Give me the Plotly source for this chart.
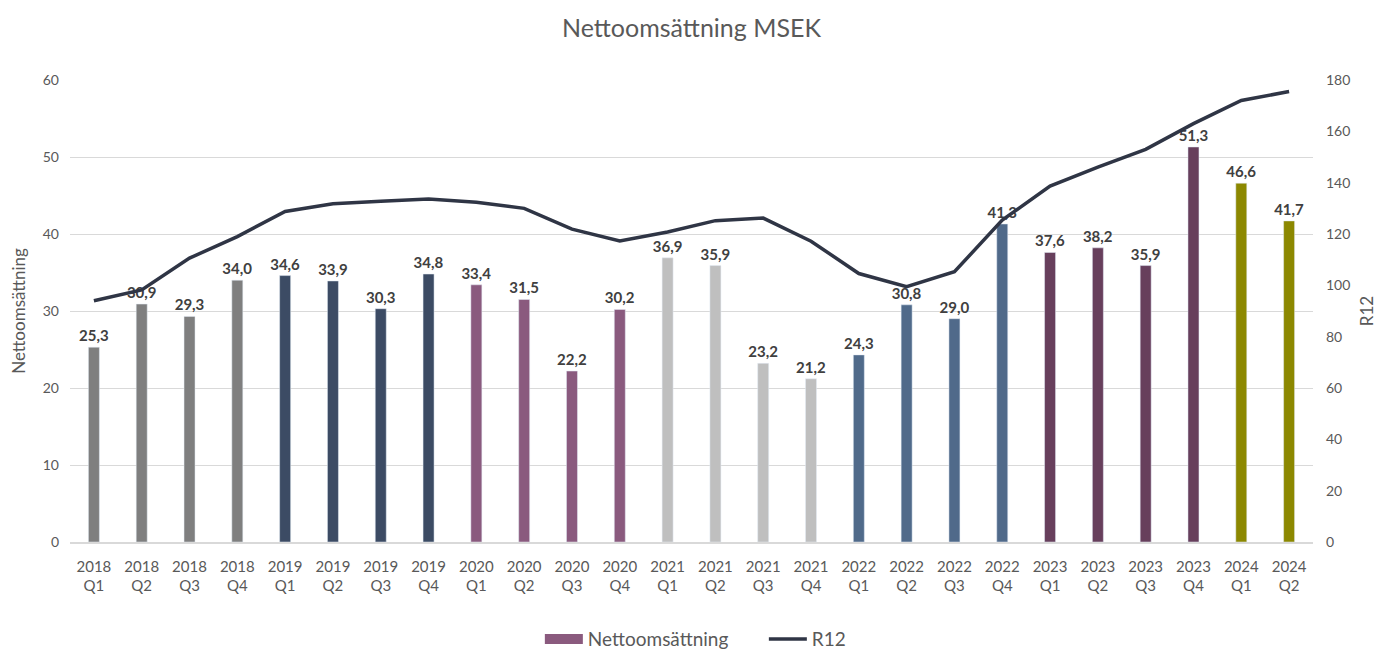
import plotly.graph_objects as go

years = ["2018"] * 4 + ["2019"] * 4 + ["2020"] * 4 + ["2021"] * 4 + ["2022"] * 4 + ["2023"] * 4 + ["2024"] * 2
quarters = ["Q1", "Q2", "Q3", "Q4"] * 6 + ["Q1", "Q2"]
categories = [f"{y}<br>{q}" for y, q in zip(years, quarters)]

net_sales = [25.3, 30.9, 29.3, 34.0,
             34.6, 33.9, 30.3, 34.8,
             33.4, 31.5, 22.2, 30.2,
             36.9, 35.9, 23.2, 21.2,
             24.3, 30.8, 29.0, 41.3,
             37.6, 38.2, 35.9, 51.3,
             46.6, 41.7]

r12 = [94.0, 98.2, 110.6, 119.0,
       128.8, 131.8, 132.8, 133.6,
       132.4, 130.0, 121.9, 117.3,
       120.8, 125.2, 126.2, 117.2,
       104.6, 99.5, 105.3, 125.4,
       138.7, 146.1, 153.0, 163.0,
       172.0, 175.5]

year_colors = {
    "2018": "#7f7f7f",
    "2019": "#3c4b64",
    "2020": "#8a5a7e",
    "2021": "#bfbfbf",
    "2022": "#506a8a",
    "2023": "#673f5c",
    "2024": "#8c8800",
}
bar_colors = [year_colors[y] for y in years]

FONT = "Lato, 'Open Sans', sans-serif"
GREY = "#595959"

fig = go.Figure()
fig.add_trace(go.Bar(
    x=categories, y=net_sales, marker_color=bar_colors,
    width=0.23, showlegend=False,
    text=[f"{v:.1f}".replace(".", ",") for v in net_sales],
    textposition="outside", cliponaxis=False, constraintext="none",
    textfont=dict(family=FONT, size=15, color="#404040", weight="bold"),
    name="Nettoomsättning",
))
# legend entry for bars (wide swatch like the original)
fig.add_trace(go.Scatter(x=[None], y=[None], mode="lines",
                         line=dict(color="#8a5a7e", width=12), name="Nettoomsättning", showlegend=True))
fig.add_trace(go.Scatter(
    x=categories, y=r12, mode="lines", yaxis="y2",
    line=dict(color="#2f3545", width=3.5), name="R12",
))

fig.update_layout(
    width=1383, height=652,
    paper_bgcolor="white", plot_bgcolor="white",
    margin=dict(l=62, r=78, t=72, b=118, autoexpand=False),
    title=dict(text="Nettoomsättning MSEK", x=0.5, xanchor="center", xref="paper",
               y=0.9693, yanchor="middle", yref="container",
               font=dict(family=FONT, size=25, color=GREY)),
    font=dict(family=FONT, color=GREY, size=14),
    bargap=0.5,
    xaxis=dict(showgrid=False, showline=True, linecolor="#d9d9d9", linewidth=1.5,
               tickfont=dict(family=FONT, size=15, color=GREY), ticks="", ticklabelstandoff=10,
               automargin=False),
    yaxis=dict(range=[0, 60], dtick=10, showgrid=True, gridcolor="#d9d9d9", gridwidth=1,
               zeroline=False, tickfont=dict(family=FONT, size=14, color=GREY),
               title=dict(text="Nettoomsättning", font=dict(family=FONT, size=17, color=GREY), standoff=12),
               ticklabelstandoff=10, automargin=False),
    yaxis2=dict(range=[0, 180], dtick=20, overlaying="y", side="right", showgrid=False,
                zeroline=False, tickfont=dict(family=FONT, size=14, color=GREY),
                title=dict(text="R12", font=dict(family=FONT, size=17, color=GREY), standoff=11),
                ticklabelstandoff=12, automargin=False),
    legend=dict(orientation="h", x=0.378, xanchor="left", y=0.032, yanchor="middle", yref="container",
                font=dict(family=FONT, size=19, color=GREY), traceorder="normal",
                itemwidth=38, entrywidth=171, entrywidthmode="pixels"),
)

fig.write_html("out.html")
